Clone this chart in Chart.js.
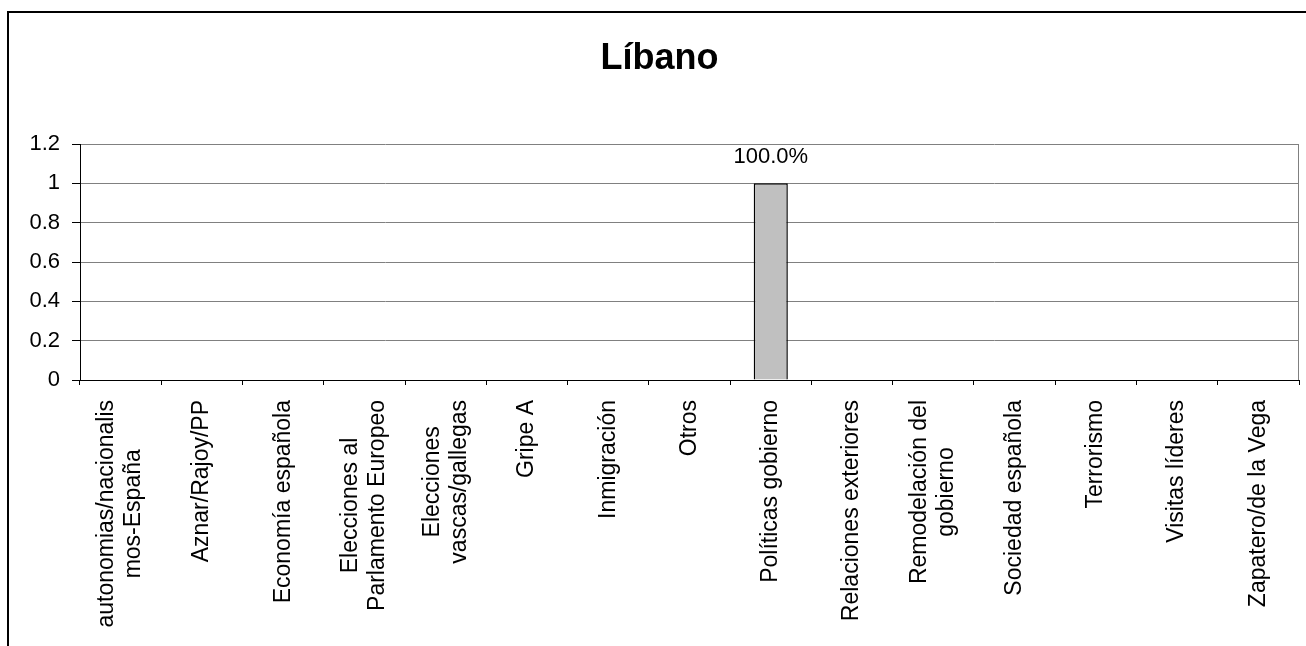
<!DOCTYPE html>
<html>
<head>
<meta charset="utf-8">
<script src="https://cdn.jsdelivr.net/npm/chart.js@4.4.1/dist/chart.umd.min.js"></script>
<style>
  html, body { margin: 0; padding: 0; background: #fff; overflow: hidden; }
  #frame { position: absolute; left: 7px; top: 11px; width: 1400px; height: 700px; border: 2px solid #000; }
  #wrap { position: absolute; left: 0; top: 0; width: 1306px; height: 646px; }
</style>
</head>
<body>
<div id="frame"></div>
<div id="wrap"><canvas id="chart" width="1306" height="646"></canvas></div>
<script>
// Temas de noticias (una entrada por categoría; los arrays son etiquetas en dos líneas)
const temas = [
  ['autonomias/nacionalis', 'mos-España'],
  'Aznar/Rajoy/PP',
  'Economía española',
  ['Elecciones al', 'Parlamento Europeo'],
  ['Elecciones', 'vascas/gallegas'],
  'Gripe A',
  'Inmigración',
  'Otros',
  'Políticas gobierno',
  'Relaciones exteriores',
  ['Remodelación del', 'gobierno'],
  'Sociedad española',
  'Terrorismo',
  'Visitas líderes',
  'Zapatero/de la Vega'
];

// Proporción de noticias por tema
const valores = [0, 0, 0, 0, 0, 0, 0, 0, 1, 0, 0, 0, 0, 0, 0];

const ejeMin = 0;
const ejeMax = 1.2;
const ejePaso = 0.2;

const FUENTE = 'Arial, "Liberation Sans", sans-serif';
Chart.defaults.font.family = FUENTE;
Chart.defaults.color = '#000';

// etiquetas del eje x giradas, con las líneas centradas entre sí
const etiquetasX = {
  id: 'etiquetasX',
  afterDraw(chart) {
    const ctx = chart.ctx;
    const sc = chart.scales.x;
    const lh = 27;
    ctx.save();
    ctx.font = '23px ' + FUENTE;
    ctx.fillStyle = '#000';
    ctx.textAlign = 'center';
    ctx.textBaseline = 'middle';
    temas.forEach((t, i) => {
      const lineas = Array.isArray(t) ? t : [t];
      const anchos = lineas.map(l => ctx.measureText(l).width);
      const maxW = Math.max(...anchos);
      const x = sc.getPixelForTick(i);
      ctx.save();
      ctx.translate(x, sc.top + 20);
      ctx.rotate(-Math.PI / 2);
      lineas.forEach((l, k) => {
        ctx.fillText(l, -maxW / 2, (k - (lineas.length - 1) / 2) * lh);
      });
      ctx.restore();
    });
    ctx.restore();
  }
};

// porcentaje encima de cada barra con valor
const etiquetasValor = {
  id: 'etiquetasValor',
  afterDatasetsDraw(chart) {
    const ctx = chart.ctx;
    const meta = chart.getDatasetMeta(0);
    ctx.save();
    ctx.font = '22px ' + FUENTE;
    ctx.fillStyle = '#000';
    ctx.textAlign = 'center';
    ctx.textBaseline = 'middle';
    meta.data.forEach((bar, i) => {
      const v = valores[i];
      if (!v) return;
      ctx.fillText((v * 100).toFixed(1) + '%', bar.x, bar.y - 26);
    });
    ctx.restore();
  }
};

// borde gris derecho del área de trazado
const bordeArea = {
  id: 'bordeArea',
  beforeDatasetsDraw(chart) {
    const a = chart.chartArea;
    const ctx = chart.ctx;
    ctx.save();
    ctx.strokeStyle = '#808080';
    ctx.lineWidth = 1;
    ctx.beginPath();
    ctx.moveTo(a.right - 0.5, a.top);
    ctx.lineTo(a.right - 0.5, a.bottom);
    ctx.stroke();
    ctx.restore();
  }
};

new Chart(document.getElementById('chart'), {
  type: 'bar',
  data: {
    labels: temas,
    datasets: [{
      data: valores,
      backgroundColor: '#C0C0C0',
      borderColor: '#000',
      borderWidth: 1.5,
      barPercentage: 0.42,
      categoryPercentage: 1
    }]
  },
  options: {
    responsive: false,
    animation: false,
    layout: { padding: { left: 20, right: 7, top: 0, bottom: 0 } },
    plugins: {
      legend: { display: false },
      tooltip: { enabled: false },
      title: {
        display: true,
        text: 'Líbano',
        color: '#000',
        font: { size: 36, weight: 'bold' },
        padding: { top: 37, bottom: 63.8 }
      }
    },
    scales: {
      x: {
        ticks: { display: false },
        grid: {
          offset: true,
          drawOnChartArea: false,
          tickLength: 5,
          tickColor: '#000'
        },
        border: { color: '#000', width: 1 },
        afterFit(s) { s.height = 266; }
      },
      y: {
        min: ejeMin,
        max: ejeMax,
        ticks: {
          stepSize: ejePaso,
          font: { size: 22 },
          color: '#000',
          padding: 12,
          callback: v => String(Number(v.toFixed(2)))
        },
        grid: {
          color: ctx => ctx.tick && ctx.tick.value === 0 ? '#000' : '#808080',
          tickColor: '#000',
          tickLength: 8
        },
        border: { color: '#000', width: 1 },
        afterFit(s) { s.width = 60; }
      }
    }
  },
  plugins: [etiquetasX, etiquetasValor, bordeArea]
});
</script>
</body>
</html>
